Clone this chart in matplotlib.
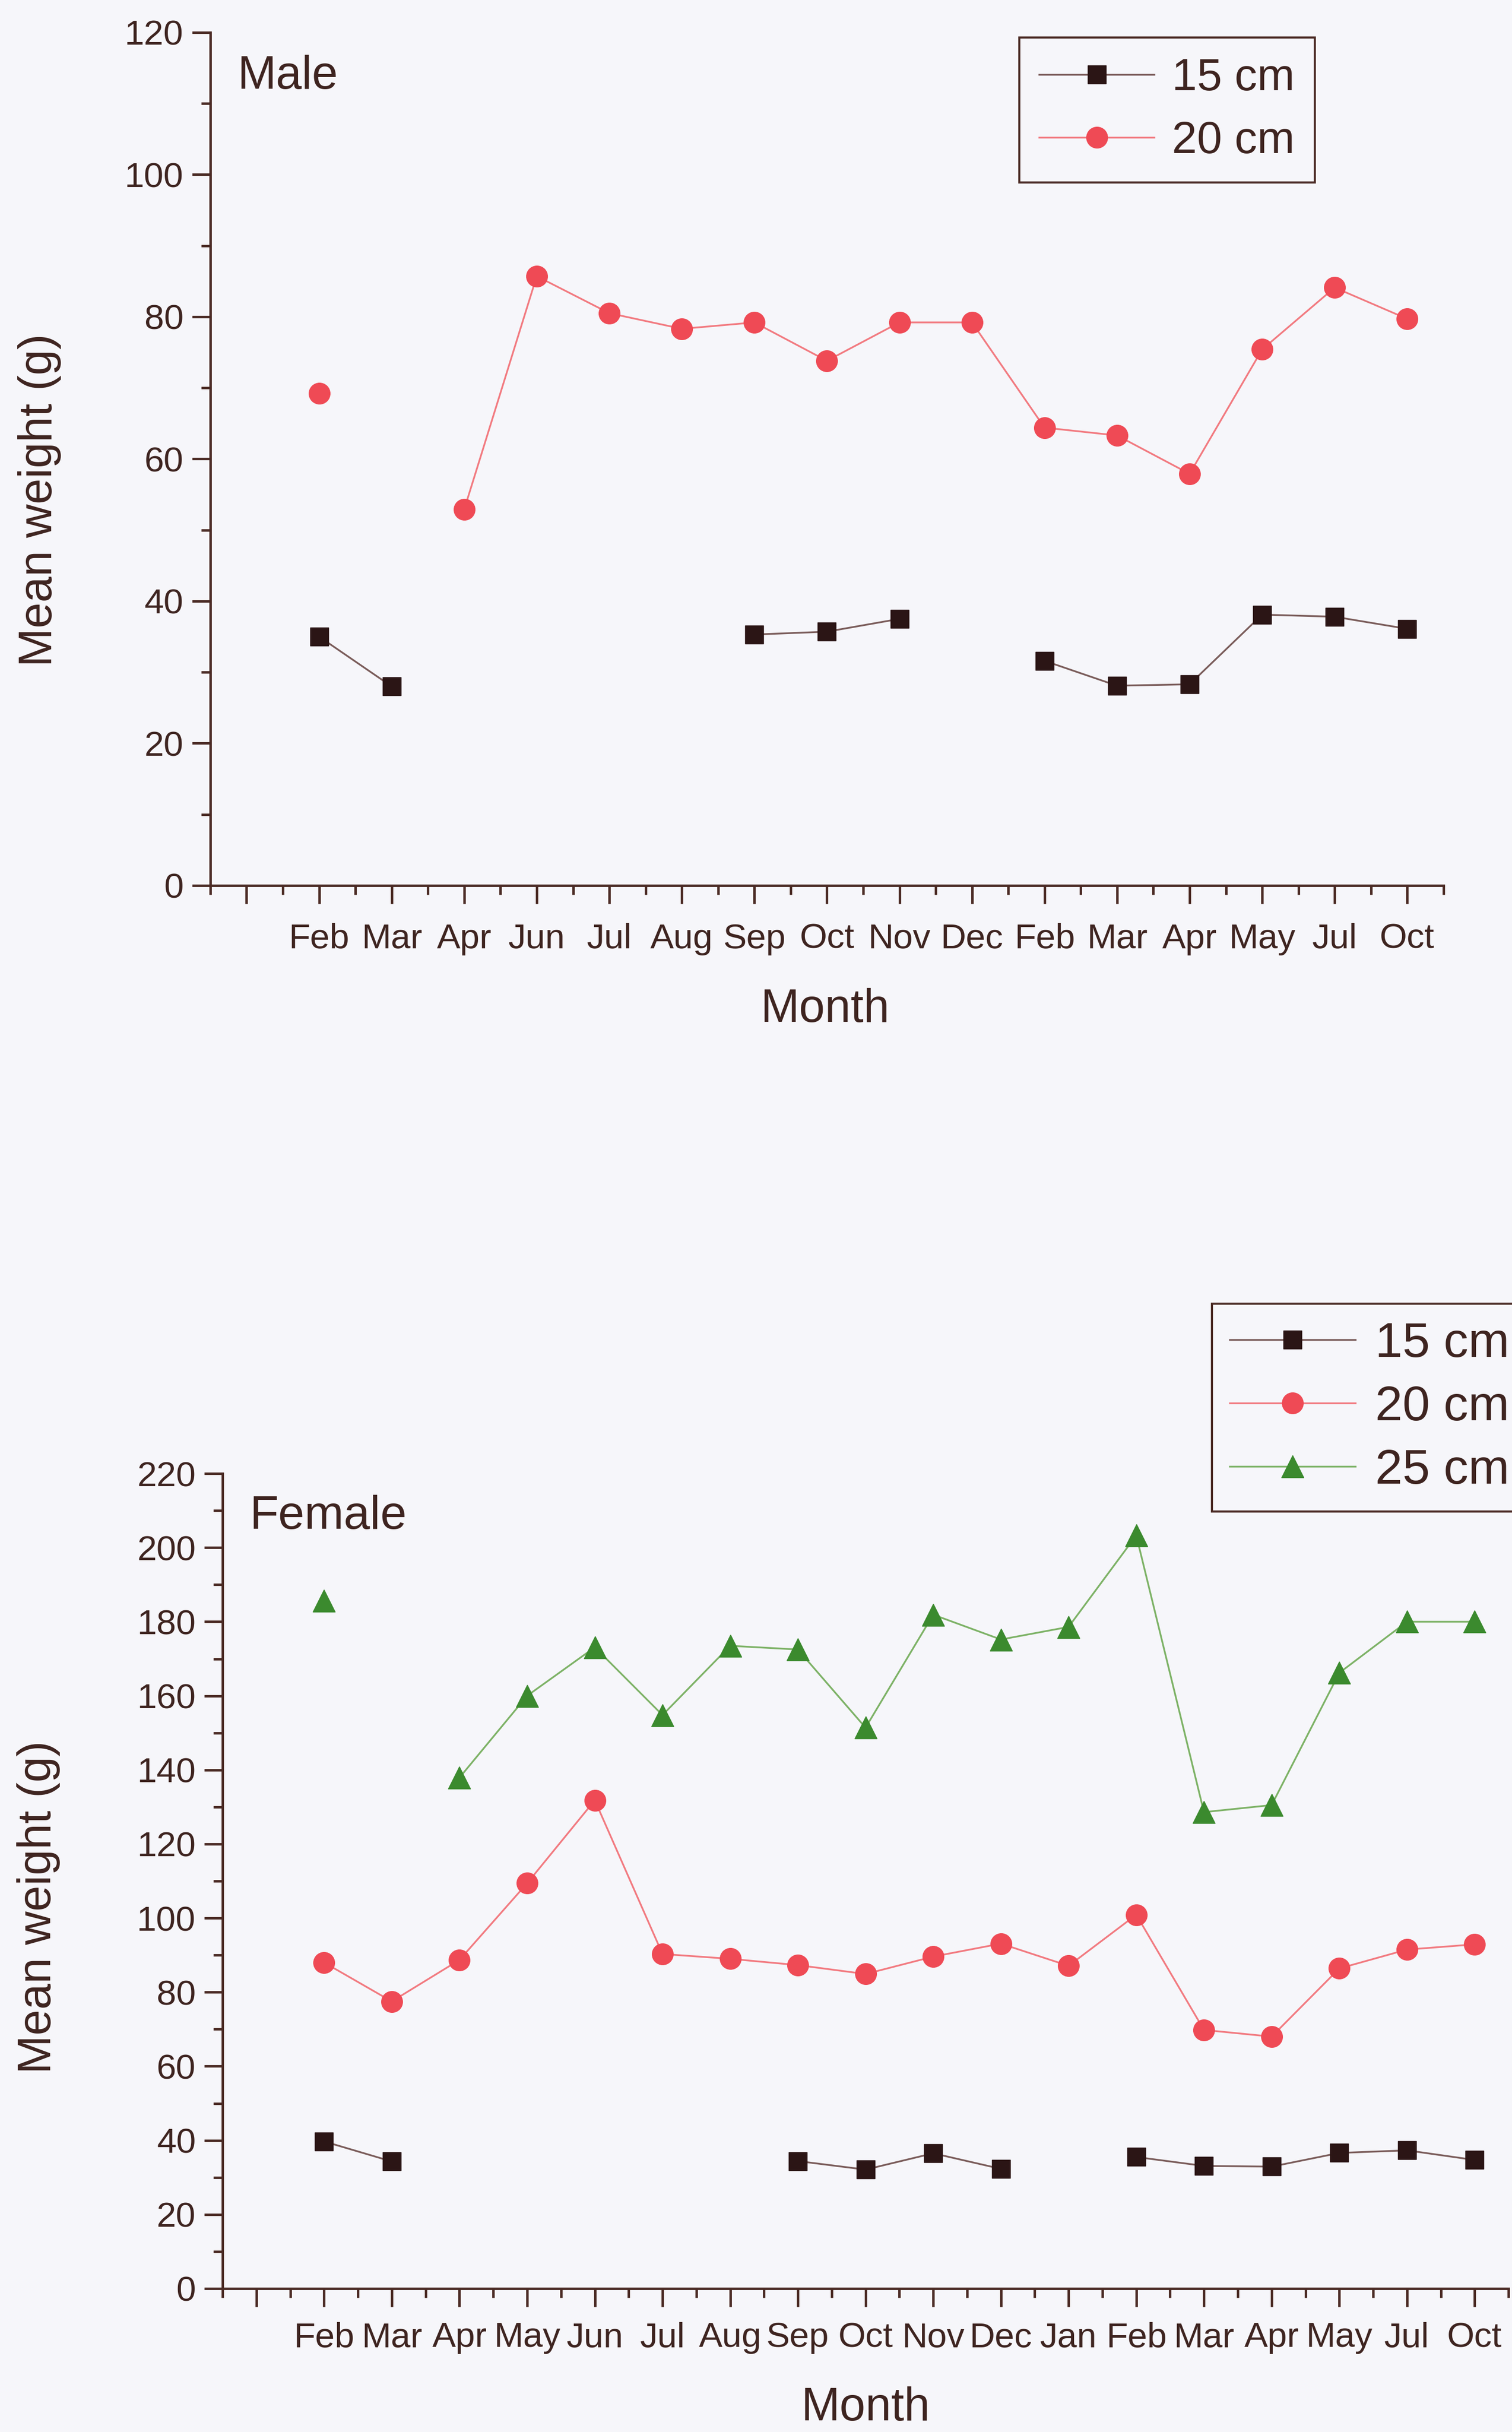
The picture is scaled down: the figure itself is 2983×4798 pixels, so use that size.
import numpy as np
import matplotlib

matplotlib.use("Agg")
import matplotlib.pyplot as plt
from matplotlib.ticker import FixedLocator, MultipleLocator

nan = np.nan

# Male panel
male_months = ["Feb", "Mar", "Apr", "Jun", "Jul", "Aug", "Sep", "Oct",
               "Nov", "Dec", "Feb", "Mar", "Apr", "May", "Jul", "Oct"]
male_15 = [35.0, 28.0, nan, nan, nan, nan, 35.3, 35.7,
           37.5, nan, 31.6, 28.1, 28.3, 38.1, 37.8, 36.1]
male_20 = [69.2, nan, 52.9, 85.7, 80.5, 78.3, 79.2, 73.8,
           79.2, 79.2, 64.4, 63.3, 57.9, 75.4, 84.1, 79.7]

# Female panel
female_months = ["Feb", "Mar", "Apr", "May", "Jun", "Jul", "Aug", "Sep", "Oct",
                 "Nov", "Dec", "Jan", "Feb", "Mar", "Apr", "May", "Jul", "Oct"]
female_15 = [39.7, 34.3, nan, nan, nan, nan, nan, 34.4, 32.1,
             36.5, 32.3, nan, 35.5, 33.1, 32.9, 36.6, 37.3, 34.7]
female_20 = [88.0, 77.5, 88.7, 109.4, 131.8, 90.3, 89.0, 87.3, 84.9,
             89.6, 93.1, 87.1, 100.9, 69.8, 68.0, 86.4, 91.5, 92.9]
female_25 = [185.7, nan, 137.9, 160.0, 173.1, 154.8, 173.5, 172.5, 151.4,
             181.9, 175.2, 178.6, 203.3, 128.6, 130.5, 166.2, 180.0, 180.0]

BG = "#f6f6fa"
AXIS_C = "#4a2a24"
TEXT_C = "#3e2420"

# label: marker, size, marker colour, line colour
SERIES = {
    "15 cm": ("s", 26, "#2b1515", "#7a5c5a"),
    "20 cm": ("o", 30, "#ef4a55", "#f27a80"),
    "25 cm": ("^", 32, "#3b8a2e", "#7db266"),
}

plt.rcParams["font.family"] = ["Liberation Sans", "DejaVu Sans"]

fig = plt.figure(figsize=(29.83, 47.98), dpi=100, facecolor=BG)
ax1 = fig.add_axes([0.1391, 0.6359, 0.8156, 0.3508])
ax2 = fig.add_axes([0.1472, 0.0590, 0.8505, 0.3351])


def style_axes(ax, months, ymax, xpad):
    n = len(months)
    ax.set_facecolor("none")
    for s in ("top", "right"):
        ax.spines[s].set_visible(False)
    for s in ("left", "bottom"):
        ax.spines[s].set_color(AXIS_C)
        ax.spines[s].set_linewidth(3.5)
    ax.set_xlim(-0.5, n + 0.5)
    ax.set_ylim(0, ymax)
    ax.set_xticks(range(0, n + 1))
    ax.set_xticklabels([""] + months)
    ax.xaxis.set_minor_locator(FixedLocator(np.arange(-0.5, n + 1, 1)))
    ax.yaxis.set_major_locator(MultipleLocator(20))
    ax.yaxis.set_minor_locator(MultipleLocator(10))
    ax.tick_params(which="major", length=26, width=3.5, color=AXIS_C,
                   labelsize=50, labelcolor=TEXT_C, direction="out")
    ax.tick_params(which="minor", length=13, width=3.5, color=AXIS_C, direction="out")
    ax.tick_params(axis="x", which="major", pad=xpad)
    ax.tick_params(axis="y", which="major", pad=12)


def draw(ax, months, series):
    x = np.arange(1, len(months) + 1)
    handles = []
    for label, vals in series:
        mk, ms, mc, lc = SERIES[label]
        h, = ax.plot(x, vals, color=lc, lw=2.5, marker=mk, ms=ms,
                     mfc=mc, mec=mc, label=label, clip_on=False)
        handles.append(h)
    return handles


h1 = draw(ax1, male_months, [("15 cm", male_15), ("20 cm", male_20)])
style_axes(ax1, male_months, 120, 27)
ax1.text(0.022, 0.934, "Male", transform=ax1.transAxes, fontsize=66,
         color=TEXT_C, va="baseline", ha="left")
ax1.set_ylabel("Mean weight (g)", fontsize=66, color=TEXT_C)
ax1.yaxis.set_label_coords(-0.121, 0.452)
ax1.set_xlabel("Month", fontsize=66, color=TEXT_C)
ax1.xaxis.set_label_coords(0.4986, -0.120)

h2 = draw(ax2, female_months,
          [("15 cm", female_15), ("20 cm", female_20), ("25 cm", female_25)])
style_axes(ax2, female_months, 220, 21)
ax2.text(0.021, 0.932, "Female", transform=ax2.transAxes, fontsize=67,
         color=TEXT_C, va="baseline", ha="left")
ax2.set_ylabel("Mean weight (g)", fontsize=66, color=TEXT_C)
ax2.yaxis.set_label_coords(-0.126, 0.468)
ax2.set_xlabel("Month", fontsize=66, color=TEXT_C)
ax2.xaxis.set_label_coords(0.500, -0.120)

leg_kw = dict(loc="upper left", frameon=True, fancybox=False, edgecolor=AXIS_C,
              facecolor=BG, framealpha=1, handlelength=2.55, handletextpad=0.4,
              borderaxespad=0, labelcolor=TEXT_C)
leg1 = fig.legend(h1, [h.get_label() for h in h1], fontsize=64, borderpad=0.44,
                  bbox_to_anchor=(0.6742, 0.9846), labelspacing=0.45, **leg_kw)
leg1.get_frame().set_linewidth(3)
leg2 = fig.legend(h2, [h.get_label() for h in h2], fontsize=70, borderpad=0.36,
                  bbox_to_anchor=(0.8015, 0.4640), labelspacing=0.36, **leg_kw)
leg2.get_frame().set_linewidth(3)

fig.savefig("out.png", dpi=100, facecolor=BG)
